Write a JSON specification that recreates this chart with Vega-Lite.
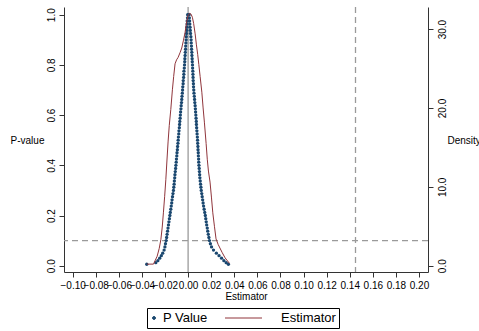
{
  "$schema": "https://vega.github.io/schema/vega-lite/v6.json",
  "width": 364,
  "height": 265,
  "autosize": {"type": "none"},
  "padding": {"left": 64, "top": 7, "right": 51, "bottom": 59},
  "background": "white",
  "config": {
    "view": {"stroke": null},
    "font": "Liberation Sans",
    "axis": {"grid": false, "domainColor": "#333333", "tickColor": "#333333", "labelColor": "#000000", "titleColor": "#000000", "labelFont": "Liberation Sans", "titleFont": "Liberation Sans", "labelFontSize": 10, "titleFontSize": 10, "titleFontWeight": "normal", "tickSize": 5, "domainWidth": 1, "tickWidth": 1, "labelOverlap": false},
    "axisX": {"labelOverlap": false, "labelFlush": false, "labelBound": false, "labelSeparation": -30},
    "legend": {"orient": "none", "legendX": 83, "legendY": 301, "direction": "horizontal", "strokeColor": "#000000", "padding": 3, "columnPadding": 15, "labelFont": "Liberation Sans", "labelFontSize": 13, "labelColor": "#000000", "symbolSize": 169, "labelOffset": -1, "symbolStrokeWidth": 1, "symbolOpacity": 1}
  },
  "datasets": {
    "pts": [
      {"e": -0.0004, "p": 1.0}, {"e": -0.0005, "p": 0.9875}, {"e": -0.0008, "p": 0.975}, {"e": -0.0009, "p": 0.9625}, {"e": -0.0011, "p": 0.95}, {"e": -0.0012, "p": 0.9375}, {"e": -0.0014, "p": 0.925}, {"e": -0.0016, "p": 0.9125}, {"e": -0.0017, "p": 0.9}, {"e": -0.0019, "p": 0.8875}, {"e": -0.0021, "p": 0.875}, {"e": -0.0022, "p": 0.8625}, {"e": -0.0024, "p": 0.85}, {"e": -0.0026, "p": 0.8375}, {"e": -0.0028, "p": 0.825}, {"e": -0.0029, "p": 0.8125}, {"e": -0.0031, "p": 0.8}, {"e": -0.0033, "p": 0.7875}, {"e": -0.0036, "p": 0.775}, {"e": -0.0037, "p": 0.7625}, {"e": -0.0039, "p": 0.75}, {"e": -0.0042, "p": 0.7375}, {"e": -0.0043, "p": 0.725}, {"e": -0.0046, "p": 0.7125}, {"e": -0.0048, "p": 0.7}, {"e": -0.005, "p": 0.6875}, {"e": -0.0053, "p": 0.675}, {"e": -0.0055, "p": 0.6625}, {"e": -0.0057, "p": 0.65}, {"e": -0.006, "p": 0.6375}, {"e": -0.0062, "p": 0.625}, {"e": -0.0065, "p": 0.6125}, {"e": -0.0067, "p": 0.6}, {"e": -0.0069, "p": 0.5875}, {"e": -0.0072, "p": 0.575}, {"e": -0.0074, "p": 0.5625}, {"e": -0.0076, "p": 0.55}, {"e": -0.0079, "p": 0.5375}, {"e": -0.0081, "p": 0.525}, {"e": -0.0084, "p": 0.5125}, {"e": -0.0086, "p": 0.5}, {"e": -0.0088, "p": 0.4875}, {"e": -0.0091, "p": 0.475}, {"e": -0.0093, "p": 0.4625}, {"e": -0.0096, "p": 0.45}, {"e": -0.0098, "p": 0.4375}, {"e": -0.0101, "p": 0.425}, {"e": -0.0103, "p": 0.4125}, {"e": -0.0106, "p": 0.4}, {"e": -0.0108, "p": 0.3875}, {"e": -0.0111, "p": 0.375}, {"e": -0.0114, "p": 0.3625}, {"e": -0.0116, "p": 0.35}, {"e": -0.0119, "p": 0.3375}, {"e": -0.0121, "p": 0.325}, {"e": -0.0124, "p": 0.3125}, {"e": -0.0127, "p": 0.3}, {"e": -0.0131, "p": 0.2875}, {"e": -0.0135, "p": 0.275}, {"e": -0.0139, "p": 0.2625}, {"e": -0.0142, "p": 0.25}, {"e": -0.0146, "p": 0.2375}, {"e": -0.015, "p": 0.225}, {"e": -0.0154, "p": 0.2125}, {"e": -0.0158, "p": 0.2}, {"e": -0.0162, "p": 0.1875}, {"e": -0.0166, "p": 0.175}, {"e": -0.017, "p": 0.1625}, {"e": -0.0174, "p": 0.15}, {"e": -0.0178, "p": 0.1375}, {"e": -0.0182, "p": 0.125}, {"e": -0.0186, "p": 0.1125}, {"e": -0.019, "p": 0.1}, {"e": -0.0196, "p": 0.0875}, {"e": -0.0201, "p": 0.075}, {"e": -0.0208, "p": 0.0625}, {"e": -0.022, "p": 0.05}, {"e": -0.0232, "p": 0.04}, {"e": -0.0246, "p": 0.03}, {"e": -0.0262, "p": 0.02}, {"e": -0.028, "p": 0.012}, {"e": -0.0358, "p": 0.006},
      {"e": 0.0009, "p": 1.0}, {"e": 0.0011, "p": 0.9875}, {"e": 0.0013, "p": 0.975}, {"e": 0.0015, "p": 0.9625}, {"e": 0.0017, "p": 0.95}, {"e": 0.0019, "p": 0.9375}, {"e": 0.0021, "p": 0.925}, {"e": 0.0024, "p": 0.9125}, {"e": 0.0026, "p": 0.9}, {"e": 0.0027, "p": 0.8875}, {"e": 0.0029, "p": 0.875}, {"e": 0.003, "p": 0.8625}, {"e": 0.0032, "p": 0.85}, {"e": 0.0033, "p": 0.8375}, {"e": 0.0035, "p": 0.825}, {"e": 0.0036, "p": 0.8125}, {"e": 0.0038, "p": 0.8}, {"e": 0.0039, "p": 0.7875}, {"e": 0.0041, "p": 0.775}, {"e": 0.0042, "p": 0.7625}, {"e": 0.0043, "p": 0.75}, {"e": 0.0044, "p": 0.7375}, {"e": 0.0046, "p": 0.725}, {"e": 0.0047, "p": 0.7125}, {"e": 0.0049, "p": 0.7}, {"e": 0.0051, "p": 0.6875}, {"e": 0.0054, "p": 0.675}, {"e": 0.0056, "p": 0.6625}, {"e": 0.0058, "p": 0.65}, {"e": 0.0061, "p": 0.6375}, {"e": 0.0063, "p": 0.625}, {"e": 0.0065, "p": 0.6125}, {"e": 0.0067, "p": 0.6}, {"e": 0.0069, "p": 0.5875}, {"e": 0.0071, "p": 0.575}, {"e": 0.0072, "p": 0.5625}, {"e": 0.0074, "p": 0.55}, {"e": 0.0076, "p": 0.5375}, {"e": 0.0078, "p": 0.525}, {"e": 0.008, "p": 0.5125}, {"e": 0.0082, "p": 0.5}, {"e": 0.0083, "p": 0.4875}, {"e": 0.0085, "p": 0.475}, {"e": 0.0086, "p": 0.4625}, {"e": 0.0088, "p": 0.45}, {"e": 0.0089, "p": 0.4375}, {"e": 0.0091, "p": 0.425}, {"e": 0.0092, "p": 0.4125}, {"e": 0.0094, "p": 0.4}, {"e": 0.0096, "p": 0.3875}, {"e": 0.0098, "p": 0.375}, {"e": 0.01, "p": 0.3625}, {"e": 0.0102, "p": 0.35}, {"e": 0.0105, "p": 0.3375}, {"e": 0.0108, "p": 0.325}, {"e": 0.0111, "p": 0.3125}, {"e": 0.0114, "p": 0.3}, {"e": 0.0118, "p": 0.2875}, {"e": 0.0122, "p": 0.275}, {"e": 0.0126, "p": 0.2625}, {"e": 0.013, "p": 0.25}, {"e": 0.0134, "p": 0.2375}, {"e": 0.0139, "p": 0.225}, {"e": 0.0144, "p": 0.2125}, {"e": 0.0149, "p": 0.2}, {"e": 0.0153, "p": 0.1875}, {"e": 0.0157, "p": 0.175}, {"e": 0.0161, "p": 0.1625}, {"e": 0.0166, "p": 0.15}, {"e": 0.017, "p": 0.1375}, {"e": 0.0175, "p": 0.125}, {"e": 0.018, "p": 0.1125}, {"e": 0.0185, "p": 0.1}, {"e": 0.0193, "p": 0.0875}, {"e": 0.0203, "p": 0.075}, {"e": 0.022, "p": 0.0625}, {"e": 0.0245, "p": 0.05}, {"e": 0.0268, "p": 0.04}, {"e": 0.029, "p": 0.03}, {"e": 0.031, "p": 0.02}, {"e": 0.033, "p": 0.012}, {"e": 0.0349, "p": 0.006}
    ],
    "dens": [
      {"e": -0.0358, "d": 0.2}, {"e": -0.03, "d": 0.2}, {"e": -0.0268, "d": 1.2}, {"e": -0.025, "d": 2.2}, {"e": -0.0236, "d": 3.3}, {"e": -0.0224, "d": 4.9}, {"e": -0.0214, "d": 6.7}, {"e": -0.0203, "d": 8.8}, {"e": -0.0193, "d": 10.9}, {"e": -0.0183, "d": 13.4}, {"e": -0.0173, "d": 15.8}, {"e": -0.0163, "d": 17.8}, {"e": -0.015, "d": 19.8}, {"e": -0.0136, "d": 22.3}, {"e": -0.0125, "d": 24.0}, {"e": -0.0113, "d": 25.6}, {"e": -0.01, "d": 26.1}, {"e": -0.0087, "d": 26.4}, {"e": -0.007, "d": 27.0}, {"e": -0.0055, "d": 27.6}, {"e": -0.004, "d": 28.6}, {"e": -0.0026, "d": 29.6}, {"e": -0.0012, "d": 31.0}, {"e": 0.0, "d": 31.7}, {"e": 0.0012, "d": 32.0}, {"e": 0.0025, "d": 31.9}, {"e": 0.0037, "d": 31.5}, {"e": 0.0048, "d": 30.7}, {"e": 0.0061, "d": 29.4}, {"e": 0.0072, "d": 28.0}, {"e": 0.0083, "d": 26.8}, {"e": 0.0093, "d": 25.5}, {"e": 0.0104, "d": 24.0}, {"e": 0.0119, "d": 22.0}, {"e": 0.013, "d": 20.0}, {"e": 0.0141, "d": 18.2}, {"e": 0.0156, "d": 15.5}, {"e": 0.0166, "d": 13.5}, {"e": 0.0176, "d": 12.0}, {"e": 0.019, "d": 10.6}, {"e": 0.0202, "d": 8.7}, {"e": 0.0214, "d": 6.7}, {"e": 0.0228, "d": 5.0}, {"e": 0.0242, "d": 3.4}, {"e": 0.026, "d": 2.7}, {"e": 0.0294, "d": 1.7}, {"e": 0.032, "d": 1.0}, {"e": 0.0358, "d": 0.3}
    ]
  },
  "layer": [
    {
      "layer": [
        {
          "data": {"values": [{"e": 0}]},
          "mark": {"type": "rule", "color": "#9a9a9a", "strokeWidth": 1.3},
          "encoding": {
            "x": {"field": "e", "type": "quantitative", "scale": {"domain": [-0.1075, 0.2078], "nice": false, "zero": false},
                  "axis": {"title": "Estimator", "values": [-0.1, -0.08, -0.06, -0.04, -0.02, 0, 0.02, 0.04, 0.06, 0.08, 0.1, 0.12, 0.14, 0.16, 0.18, 0.2], "format": ".2f", "labelOverlap": false, "labelFlush": false, "labelBound": false, "labelPadding": 3, "titlePadding": 1}}
          }
        },
        {
          "data": {"values": [{"e": 0.145}]},
          "mark": {"type": "rule", "color": "#9a9a9a", "strokeWidth": 1.3, "strokeDash": [6, 4]},
          "encoding": {
            "x": {"field": "e", "type": "quantitative", "scale": {"domain": [-0.1075, 0.2078], "nice": false, "zero": false},
                  "axis": {"title": "Estimator", "values": [-0.1, -0.08, -0.06, -0.04, -0.02, 0, 0.02, 0.04, 0.06, 0.08, 0.1, 0.12, 0.14, 0.16, 0.18, 0.2], "format": ".2f", "labelOverlap": false, "labelFlush": false, "labelBound": false, "labelPadding": 3, "titlePadding": 1}}
          }
        },
        {
          "data": {"values": [{"p": 0.1}]},
          "mark": {"type": "rule", "color": "#9a9a9a", "strokeWidth": 1.3, "strokeDash": [6, 4]},
          "encoding": {
            "y": {"field": "p", "type": "quantitative", "scale": {"domain": [-0.025, 1.0307], "nice": false, "zero": false},
                  "axis": {"title": "P-value", "titleAngle": 0, "titleAlign": "center", "titleBaseline": "middle", "titleX": -37, "titleY": 133, "values": [0, 0.2, 0.4, 0.6, 0.8, 1], "format": ".1f", "labelAngle": -90, "labelAlign": "center", "labelBaseline": "bottom", "labelPadding": 3}}
          }
        },
        {
          "data": {"name": "pts"},
          "mark": {"type": "point", "filled": true, "size": 11, "opacity": 1},
          "encoding": {
            "x": {"field": "e", "type": "quantitative", "scale": {"domain": [-0.1075, 0.2078], "nice": false, "zero": false},
                  "axis": {"title": "Estimator", "values": [-0.1, -0.08, -0.06, -0.04, -0.02, 0, 0.02, 0.04, 0.06, 0.08, 0.1, 0.12, 0.14, 0.16, 0.18, 0.2], "format": ".2f", "labelOverlap": false, "labelFlush": false, "labelBound": false, "labelPadding": 3, "titlePadding": 1}},
            "y": {"field": "p", "type": "quantitative", "scale": {"domain": [-0.025, 1.0307], "nice": false, "zero": false},
                  "axis": {"title": "P-value", "titleAngle": 0, "titleAlign": "center", "titleBaseline": "middle", "titleX": -37, "titleY": 133, "values": [0, 0.2, 0.4, 0.6, 0.8, 1], "format": ".1f", "labelAngle": -90, "labelAlign": "center", "labelBaseline": "bottom", "labelPadding": 3}},
            "color": {"datum": "P Value", "type": "nominal",
                      "scale": {"domain": ["P Value", "Estimator"], "range": ["#1a476f", "#90353b"]},
                      "legend": {"title": null}}
          }
        },
        {
          "data": {"values": []},
          "mark": {"type": "point", "filled": true, "opacity": 1},
          "encoding": {
            "color": {"datum": "P Value", "type": "nominal", "legend": {"title": null}},
            "shape": {"datum": "P Value", "type": "nominal",
                      "scale": {"domain": ["P Value", "Estimator"], "range": ["M-0.23,0A0.23,0.23,0,1,1,-0.69,0A0.23,0.23,0,1,1,-0.23,0Z", "M-7.69,0L-2,0"]},
                      "legend": {"title": null}}
          }
        }
      ]
    },
    {
      "data": {"name": "dens"},
      "mark": {"type": "line", "strokeWidth": 1},
      "encoding": {
        "x": {"field": "e", "type": "quantitative", "scale": {"domain": [-0.1075, 0.2078], "nice": false, "zero": false},
              "axis": {"title": "Estimator", "values": [-0.1, -0.08, -0.06, -0.04, -0.02, 0, 0.02, 0.04, 0.06, 0.08, 0.1, 0.12, 0.14, 0.16, 0.18, 0.2], "format": ".2f", "labelOverlap": false, "labelFlush": false, "labelBound": false, "labelPadding": 3, "titlePadding": 1}},
        "y": {"field": "d", "type": "quantitative", "scale": {"domain": [-0.8, 32.8], "nice": false, "zero": false},
              "axis": {"orient": "right", "title": "Density", "titleAngle": 0, "titleAlign": "left", "titleBaseline": "middle", "titleX": 19, "titleY": 133, "values": [0, 10, 20, 30], "format": ".1f", "labelAngle": -90, "labelAlign": "center", "labelBaseline": "top", "labelPadding": 4}},
        "color": {"datum": "Estimator", "type": "nominal", "legend": {"title": null}}
      }
    }
  ],
  "resolve": {"scale": {"y": "independent"}}
}
